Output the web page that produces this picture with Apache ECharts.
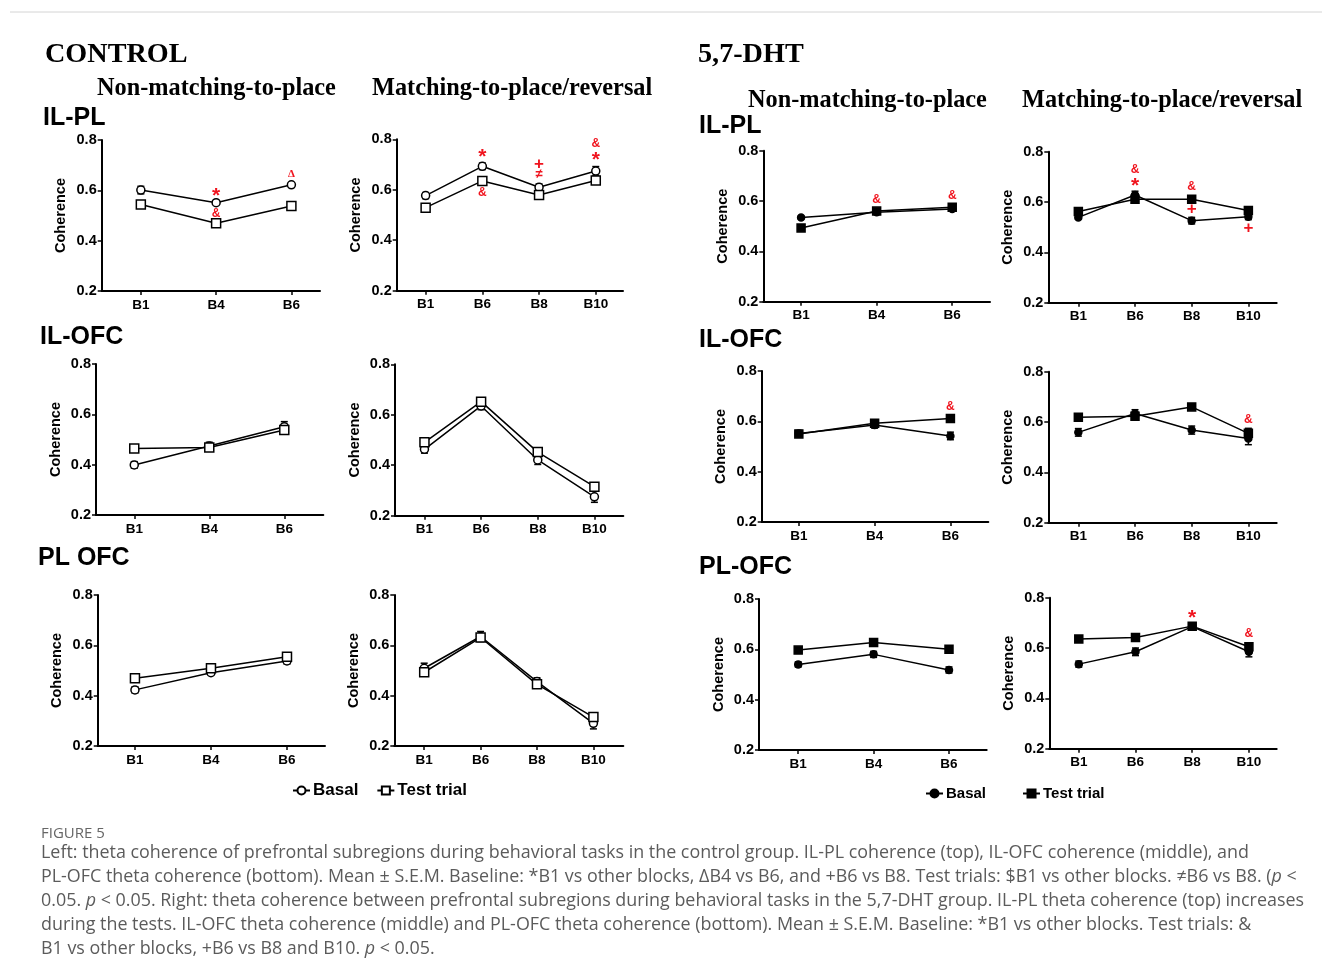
<!DOCTYPE html>
<html><head><meta charset="utf-8">
<script src="https://cdn.jsdelivr.net/npm/echarts@6/dist/echarts.min.js"></script>
<style>html,body{margin:0;padding:0;background:#fff}#c{width:1322px;height:978px}</style>
</head><body><div id="c"></div>
<script>
// ---------- categories & ticks ----------
const blocksNMTP = ['B1', 'B4', 'B6'];
const blocksMTP = ['B1', 'B6', 'B8', 'B10'];
const yTicks = [0.2, 0.4, 0.6, 0.8];

// ---------- CONTROL ----------
// IL-PL
const ctrlIlPlNmtpBasal = [0.601, 0.551, 0.622];
const ctrlIlPlNmtpBasalSem = [0.015, 0.006, 0.008];
const ctrlIlPlNmtpTest = [0.544, 0.469, 0.538];
const ctrlIlPlNmtpTestSem = [0.006, 0.006, 0.006];
const ctrlIlPlMtpBasal = [0.577, 0.693, 0.610, 0.674];
const ctrlIlPlMtpBasalSem = [0.012, 0.013, 0.013, 0.018];
const ctrlIlPlMtpTest = [0.529, 0.635, 0.579, 0.637];
const ctrlIlPlMtpTestSem = [0.008, 0.008, 0.008, 0.008];
// IL-OFC
const ctrlIlOfcNmtpBasal = [0.399, 0.474, 0.551];
const ctrlIlOfcNmtpBasalSem = [0.013, 0.015, 0.02];
const ctrlIlOfcNmtpTest = [0.464, 0.468, 0.538];
const ctrlIlOfcNmtpTestSem = [0.006, 0.006, 0.008];
const ctrlIlOfcMtpBasal = [0.463, 0.635, 0.421, 0.275];
const ctrlIlOfcMtpBasalSem = [0.015, 0.015, 0.018, 0.022];
const ctrlIlOfcMtpTest = [0.491, 0.652, 0.452, 0.315];
const ctrlIlOfcMtpTestSem = [0.008, 0.008, 0.008, 0.008];
// PL-OFC
const ctrlPlOfcNmtpBasal = [0.423, 0.491, 0.538];
const ctrlPlOfcNmtpBasalSem = [0.012, 0.007, 0.012];
const ctrlPlOfcNmtpTest = [0.469, 0.509, 0.555];
const ctrlPlOfcNmtpTestSem = [0.006, 0.006, 0.006];
const ctrlPlOfcMtpBasal = [0.509, 0.635, 0.456, 0.290];
const ctrlPlOfcMtpBasalSem = [0.02, 0.02, 0.015, 0.022];
const ctrlPlOfcMtpTest = [0.493, 0.631, 0.445, 0.315];
const ctrlPlOfcMtpTestSem = [0.008, 0.008, 0.01, 0.01];

// ---------- 5,7-DHT ----------
const dhtIlPlNmtpBasal = [0.535, 0.555, 0.568];
const dhtIlPlNmtpBasalSem = [0.005, 0.005, 0.006];
const dhtIlPlNmtpTest = [0.493, 0.560, 0.575];
const dhtIlPlNmtpTestSem = [0.005, 0.005, 0.006];
const dhtIlPlMtpBasal = [0.539, 0.628, 0.526, 0.542];
const dhtIlPlMtpBasalSem = [0.006, 0.015, 0.013, 0.012];
const dhtIlPlMtpTest = [0.562, 0.611, 0.611, 0.566];
const dhtIlPlMtpTestSem = [0.006, 0.006, 0.006, 0.012];
const dhtIlOfcNmtpBasal = [0.552, 0.585, 0.542];
const dhtIlOfcNmtpBasalSem = [0.012, 0.012, 0.015];
const dhtIlOfcNmtpTest = [0.550, 0.592, 0.611];
const dhtIlOfcNmtpTestSem = [0.008, 0.008, 0.006];
const dhtIlOfcMtpBasal = [0.559, 0.634, 0.568, 0.535];
const dhtIlOfcMtpBasalSem = [0.015, 0.015, 0.016, 0.025];
const dhtIlOfcMtpTest = [0.619, 0.623, 0.660, 0.555];
const dhtIlOfcMtpTestSem = [0.006, 0.006, 0.006, 0.02];
const dhtPlOfcNmtpBasal = [0.540, 0.580, 0.518];
const dhtPlOfcNmtpBasalSem = [0.01, 0.012, 0.012];
const dhtPlOfcNmtpTest = [0.597, 0.627, 0.600];
const dhtPlOfcNmtpTestSem = [0.006, 0.006, 0.006];
const dhtPlOfcMtpBasal = [0.536, 0.585, 0.685, 0.585];
const dhtPlOfcMtpBasalSem = [0.012, 0.015, 0.01, 0.02];
const dhtPlOfcMtpTest = [0.636, 0.642, 0.687, 0.605];
const dhtPlOfcMtpTestSem = [0.006, 0.006, 0.006, 0.012];

// ---------- significance marks: [block index, coherence level, mark] ----------
const notesCtrlIlPlNmtp = [[1, 0.591, '*'], [1, 0.509, '&'], [2, 0.665, 'Δ']];
const notesCtrlIlPlMtp = [[1, 0.745, '*'], [1, 0.590, '&'], [2, 0.702, '+'], [2, 0.660, '≠'], [3, 0.783, '&'], [3, 0.733, '*']];
const notesDhtIlPlNmtp = [[1, 0.607, '&'], [2, 0.622, '&']];
const notesDhtIlPlMtp = [[1, 0.727, '&'], [1, 0.680, '*'], [2, 0.661, '&'], [2, 0.572, '+'], [3, 0.495, '+']];
const notesDhtIlOfcNmtp = [[2, 0.658, '&']];
const notesDhtIlOfcMtp = [[3, 0.611, '&']];
const notesDhtPlOfcMtp = [[2, 0.735, '*'], [3, 0.658, '&']];

// ---------- layout ----------
const SANS = 'Liberation Sans, Arial, sans-serif';
const SERIF = 'Liberation Serif, Times New Roman, serif';
const panels = [
  // control
  {l: 101.7, t: 140, r: 320, b: 291, cats: blocksNMTP, xmin: -0.52, xmax: 2.38, basal: ctrlIlPlNmtpBasal, basalSem: ctrlIlPlNmtpBasalSem, test: ctrlIlPlNmtpTest, testSem: ctrlIlPlNmtpTestSem, notes: notesCtrlIlPlNmtp, filled: false},
  {l: 396.7, t: 139.3, r: 623, b: 290.7, cats: blocksMTP, xmin: -0.51, xmax: 3.48, basal: ctrlIlPlMtpBasal, basalSem: ctrlIlPlMtpBasalSem, test: ctrlIlPlMtpTest, testSem: ctrlIlPlMtpTestSem, notes: notesCtrlIlPlMtp, filled: false},
  {l: 96, t: 364, r: 323.3, b: 515, cats: blocksNMTP, xmin: -0.51, xmax: 2.52, basal: ctrlIlOfcNmtpBasal, basalSem: ctrlIlOfcNmtpBasalSem, test: ctrlIlOfcNmtpTest, testSem: ctrlIlOfcNmtpTestSem, notes: [], filled: false},
  {l: 395, t: 364.3, r: 623.3, b: 515.7, cats: blocksMTP, xmin: -0.52, xmax: 3.51, basal: ctrlIlOfcMtpBasal, basalSem: ctrlIlOfcMtpBasalSem, test: ctrlIlOfcMtpTest, testSem: ctrlIlOfcMtpTestSem, notes: [], filled: false},
  {l: 97.7, t: 595, r: 325, b: 746, cats: blocksNMTP, xmin: -0.49, xmax: 2.5, basal: ctrlPlOfcNmtpBasal, basalSem: ctrlPlOfcNmtpBasalSem, test: ctrlPlOfcNmtpTest, testSem: ctrlPlOfcNmtpTestSem, notes: [], filled: false},
  {l: 394.3, t: 595, r: 623.3, b: 746, cats: blocksMTP, xmin: -0.53, xmax: 3.53, basal: ctrlPlOfcMtpBasal, basalSem: ctrlPlOfcMtpBasalSem, test: ctrlPlOfcMtpTest, testSem: ctrlPlOfcMtpTestSem, notes: [], filled: false},
  // 5,7-DHT
  {l: 763.3, t: 150.7, r: 990, b: 301.7, cats: blocksNMTP, xmin: -0.5, xmax: 2.5, basal: dhtIlPlNmtpBasal, basalSem: dhtIlPlNmtpBasalSem, test: dhtIlPlNmtpTest, testSem: dhtIlPlNmtpTestSem, notes: notesDhtIlPlNmtp, filled: true},
  {l: 1048.3, t: 151.7, r: 1276.7, b: 302.7, cats: blocksMTP, xmin: -0.53, xmax: 3.5, basal: dhtIlPlMtpBasal, basalSem: dhtIlPlMtpBasalSem, test: dhtIlPlMtpTest, testSem: dhtIlPlMtpTestSem, notes: notesDhtIlPlMtp, filled: true},
  {l: 761.7, t: 371, r: 988.3, b: 522, cats: blocksNMTP, xmin: -0.49, xmax: 2.5, basal: dhtIlOfcNmtpBasal, basalSem: dhtIlOfcNmtpBasalSem, test: dhtIlOfcNmtpTest, testSem: dhtIlOfcNmtpTestSem, notes: notesDhtIlOfcNmtp, filled: true},
  {l: 1048.3, t: 371.7, r: 1276.7, b: 522.7, cats: blocksMTP, xmin: -0.53, xmax: 3.5, basal: dhtIlOfcMtpBasal, basalSem: dhtIlOfcMtpBasalSem, test: dhtIlOfcMtpTest, testSem: dhtIlOfcMtpTestSem, notes: notesDhtIlOfcMtp, filled: true},
  {l: 759, t: 599, r: 986.7, b: 750, cats: blocksNMTP, xmin: -0.52, xmax: 2.5, basal: dhtPlOfcNmtpBasal, basalSem: dhtPlOfcNmtpBasalSem, test: dhtPlOfcNmtpTest, testSem: dhtPlOfcNmtpTestSem, notes: [], filled: true},
  {l: 1049.3, t: 597.7, r: 1276.7, b: 748.7, cats: blocksMTP, xmin: -0.52, xmax: 3.49, basal: dhtPlOfcMtpBasal, basalSem: dhtPlOfcMtpBasalSem, test: dhtPlOfcMtpTest, testSem: dhtPlOfcMtpTestSem, notes: notesDhtPlOfcMtp, filled: true}
];

const grids = [], xAxes = [], yAxes = [], series = [];

function errRender(params, api) {
  const x = api.value(0), m = api.value(1), s = api.value(2);
  const top = api.coord([x, m + s]);
  const bot = api.coord([x, m - s]);
  const w = 3.5;
  const st = {stroke: '#000', lineWidth: 1.5};
  return {type: 'group', children: [
    {type: 'line', shape: {x1: top[0], y1: top[1], x2: bot[0], y2: bot[1]}, style: st},
    {type: 'line', shape: {x1: top[0] - w, y1: top[1], x2: top[0] + w, y2: top[1]}, style: st},
    {type: 'line', shape: {x1: bot[0] - w, y1: bot[1], x2: bot[0] + w, y2: bot[1]}, style: st}
  ]};
}

const noteFont = {
  '*': 'bold 21px ' + SANS,
  '&': 'bold 12px ' + SANS,
  '+': 'bold 17px ' + SANS,
  '≠': 'bold 13px ' + SANS,
  'Δ': 'bold 11px ' + SERIF
};
const noteShift = {'*': 4, '&': 0, '+': 0, '≠': 0, 'Δ': 0};

panels.forEach((p, i) => {
  grids.push({left: p.l, top: p.t, width: p.r - p.l, height: p.b - p.t, containLabel: false});
  const idx = p.cats.map((c, k) => k);
  xAxes.push({
    type: 'value', gridIndex: i, min: p.xmin, max: p.xmax,
    axisLine: {show: true, onZero: false, lineStyle: {color: '#000', width: 2}},
    axisTick: {show: true, customValues: idx, length: 4, lineStyle: {color: '#000', width: 1.5}},
    axisLabel: {show: true, customValues: idx, formatter: v => p.cats[Math.round(v)], color: '#000', fontWeight: 'bold', fontSize: 13.5, fontFamily: SANS, margin: 7},
    splitLine: {show: false}
  });
  yAxes.push({
    type: 'value', gridIndex: i, min: yTicks[0], max: yTicks[yTicks.length - 1], interval: 0.2,
    axisLine: {show: true, onZero: false, lineStyle: {color: '#000', width: 2}},
    axisTick: {show: true, length: 4, lineStyle: {color: '#000', width: 1.5}},
    axisLabel: {color: '#000', fontWeight: 'bold', fontSize: 14.5, fontFamily: SANS, margin: 5, formatter: v => v.toFixed(1)},
    splitLine: {show: false},
    name: 'Coherence', nameLocation: 'middle', nameGap: 33, nameRotate: 90,
    nameTextStyle: {color: '#000', fontWeight: 'bold', fontSize: 14.5, fontFamily: SANS}
  });
  const fillB = p.filled ? '#000' : '#fff';
  series.push({
    type: 'custom', name: 'err', xAxisIndex: i, yAxisIndex: i, z: 2, silent: true,
    renderItem: errRender, encode: {x: 0, y: 1},
    data: p.basal.map((v, k) => [k, v, p.basalSem[k]]).concat(p.test.map((v, k) => [k, v, p.testSem[k]]))
  });
  series.push({
    type: 'line', name: 'Basal', xAxisIndex: i, yAxisIndex: i, z: 3,
    data: p.basal.map((v, k) => [k, v]),
    symbol: 'circle', symbolSize: p.filled ? 7 : 8,
    itemStyle: {color: fillB, borderColor: '#000', borderWidth: 1.5},
    lineStyle: {color: '#000', width: 1.5},
    emphasis: {disabled: true}, silent: true
  });
  series.push({
    type: 'line', name: 'Test trial', xAxisIndex: i, yAxisIndex: i, z: 3,
    data: p.test.map((v, k) => [k, v]),
    symbol: 'rect', symbolSize: p.filled ? 8 : 9,
    itemStyle: {color: fillB, borderColor: '#000', borderWidth: 1.5},
    lineStyle: {color: '#000', width: 1.5},
    emphasis: {disabled: true}, silent: true
  });
  if (p.notes.length) {
    const notes = p.notes;
    series.push({
      type: 'custom', name: 'notes', xAxisIndex: i, yAxisIndex: i, z: 5, silent: true,
      encode: {x: 0, y: 1},
      data: notes.map(n => [n[0], n[1]]),
      renderItem: (params, api) => {
        const c = api.coord([api.value(0), api.value(1)]);
        const t = notes[params.dataIndex][2];
        return {type: 'text', x: c[0], y: c[1] + noteShift[t],
          style: {text: t, font: noteFont[t], fill: '#f0141e', align: 'center', verticalAlign: 'middle'}};
      }
    });
  }
});

// ---------- text ----------
function txt(s, x, y, font, fill, extra) {
  return {type: 'text', silent: true, style: Object.assign({text: s, x: x, y: y, font: font, fill: fill || '#000', align: 'left', verticalAlign: 'middle'}, extra || {})};
}
const capSize = 17.9;
const capFont = capSize + 'px Open Sans, sans-serif';
const capColor = '#5b5b5b';
const capRich = {i: {fontStyle: 'italic', fontSize: capSize, fontFamily: 'Open Sans, sans-serif', fill: capColor}};
const captionLines = [
  'Left: theta coherence of prefrontal subregions during behavioral tasks in the control group. IL-PL coherence (top), IL-OFC coherence (middle), and',
  'PL-OFC theta coherence (bottom). Mean ± S.E.M. Baseline: *B1 vs other blocks, ΔB4 vs B6, and +B6 vs B8. Test trials: $B1 vs other blocks. ≠B6 vs B8. ({i|p} <',
  '0.05. {i|p} < 0.05. Right: theta coherence between prefrontal subregions during behavioral tasks in the 5,7-DHT group. IL-PL theta coherence (top) increases',
  'during the tests. IL-OFC theta coherence (middle) and PL-OFC theta coherence (bottom). Mean ± S.E.M. Baseline: *B1 vs other blocks. Test trials: &',
  'B1 vs other blocks, +B6 vs B8 and B10. {i|p} < 0.05.'
];
const graphics = [
  {type: 'line', silent: true, shape: {x1: 10, y1: 12, x2: 1322, y2: 12}, style: {stroke: '#d4d4d4', lineWidth: 1}},
  txt('CONTROL', 45, 55, 'bold 28.2px ' + SERIF),
  txt('Non-matching-to-place', 97, 89, 'bold 24.3px ' + SERIF),
  txt('Matching-to-place/reversal', 372, 89, 'bold 24.3px ' + SERIF),
  txt('5,7-DHT', 698, 55, 'bold 28.2px ' + SERIF),
  txt('Non-matching-to-place', 748, 101, 'bold 24.3px ' + SERIF),
  txt('Matching-to-place/reversal', 1022, 101, 'bold 24.3px ' + SERIF),
  txt('IL-PL', 43, 118, 'bold 25px ' + SANS),
  txt('IL-OFC', 40, 337, 'bold 25px ' + SANS),
  txt('PL OFC', 38, 558, 'bold 25px ' + SANS),
  txt('IL-PL', 699, 126, 'bold 25px ' + SANS),
  txt('IL-OFC', 699, 340, 'bold 25px ' + SANS),
  txt('PL-OFC', 699, 567, 'bold 25px ' + SANS),
  txt('FIGURE 5', 41, 834, '15px Open Sans, sans-serif', '#666')
];
captionLines.forEach((s, k) => {
  graphics.push(txt(s, 41, 853 + k * 24, capFont, capColor, {rich: capRich}));
});

const chart = echarts.init(document.getElementById('c'), null, {renderer: 'canvas'});
chart.setOption({
  animation: false,
  backgroundColor: '#fff',
  grid: grids, xAxis: xAxes, yAxis: yAxes, series: series,
  legend: [
    {left: 292, top: 782, itemWidth: 17, itemHeight: 10, itemGap: 18, padding: 0, selectedMode: false,
     data: [{name: 'Basal'}, {name: 'Test trial'}],
     textStyle: {fontFamily: SANS, fontWeight: 'bold', fontSize: 17, color: '#000', padding: [0, 0, 0, -2]}},
    {left: 925, top: 786, itemWidth: 17, itemHeight: 10, itemGap: 36, padding: 0, selectedMode: false,
     data: [{name: 'Basal', itemStyle: {color: '#000'}}, {name: 'Test trial', itemStyle: {color: '#000'}}],
     textStyle: {fontFamily: SANS, fontWeight: 'bold', fontSize: 15, color: '#000', padding: [0, 0, 0, -2]}}
  ],
  graphic: graphics
});
</script>
</body></html>
